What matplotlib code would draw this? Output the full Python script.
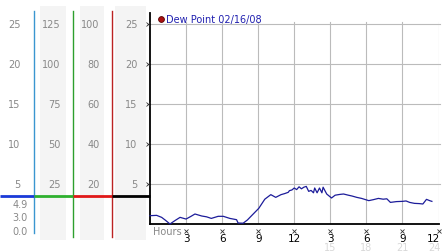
import matplotlib
matplotlib.use("Agg")
import matplotlib.pyplot as plt
import matplotlib.transforms as mtransforms

# ---------------- data ----------------
hours = [0.0, 0.55, 0.97, 1.3, 1.66, 2.1, 2.5, 3.0, 3.4, 3.74, 4.3, 4.7, 5.1, 5.67, 6.1,
         6.64, 7.2, 7.33, 7.75, 8.1, 8.45, 9.05, 9.55, 10.05, 10.46, 10.9, 11.2, 11.5, 11.6,
         11.8, 12.0, 12.2, 12.4, 12.6, 12.8, 13.0, 13.2, 13.4, 13.6, 13.7, 13.9, 14.1, 14.3,
         14.4, 14.7, 15.1, 15.4, 15.8, 16.1, 16.5, 16.8, 17.2, 17.6, 18.2, 18.6, 19.0, 19.4,
         19.7, 20.0, 20.5, 21.0, 21.3, 21.6, 22.0, 22.4, 22.7, 23.0, 23.3, 23.45]
dew_point = [1.04, 1.08, 0.83, 0.45, 0.0, 0.45, 0.83, 0.62, 0.95, 1.25, 1.0, 0.9, 0.7, 0.96, 0.96,
             0.7, 0.54, 0.12, 0.1, 0.5, 1.04, 1.96, 3.1, 3.67, 3.33, 3.67, 3.8, 3.96, 4.17,
             4.25, 4.5, 4.3, 4.65, 4.4, 4.6, 4.7, 4.08, 4.2, 3.9, 4.5, 3.9, 4.5, 3.9,
             4.6, 3.75, 3.25, 3.6, 3.7, 3.75, 3.6, 3.5, 3.33, 3.2, 2.92, 3.05, 3.2, 3.1,
             3.15, 2.7, 2.8, 2.83, 2.88, 2.7, 2.58, 2.55, 2.5, 3.08, 2.9, 2.83]

x_ticks = [3, 6, 9, 12, 15, 18, 21, 24]
x_labels = ["3", "6", "9", "12", "3", "6", "9", "12"]
x_labels_24h = ["15", "18", "21", "24"]
y_ticks = [5, 10, 15, 20, 25]
scale_col1 = ["5", "10", "15", "20", "25"]
scale_col2 = ["25", "50", "75", "100", "125"]
scale_col3 = ["20", "40", "60", "80", "100"]
scale_col4 = ["5", "10", "15", "20", "25"]
low_labels = ["4.9", "3.0", "0.0"]
legend_label = "Dew Point 02/16/08"

# ---------------- figure ----------------
W, H = 442, 253
fig = plt.figure(figsize=(W / 100, H / 100), dpi=100)
fig.patch.set_facecolor("white")

def fx(px):
    return px / W

def fy(py):
    return 1 - py / H

# overlay for the decorations of the left scale panel (pixel coords)
ov = fig.add_axes([0, 0, 1, 1], zorder=0)
ov.set_xlim(0, W)
ov.set_ylim(H, 0)
ov.axis("off")

# main axes
ax_left, ax_right, ax_top, ax_bot = 150, 438.5, 14, 225
ax = fig.add_axes([fx(ax_left), fy(ax_bot), fx(ax_right - ax_left), (ax_bot - ax_top) / H], zorder=2)
ax.set_facecolor("none")
ax.set_xlim(0, 24)
ax.set_ylim(0, (ax_bot - ax_top) / 8.0)

for t in y_ticks:
    ax.axhline(t, color="#bbbbbb", lw=0.8, zorder=1, xmax=1.005, clip_on=False)
for t in x_ticks:
    ax.axvline(t, color="#bbbbbb", lw=0.8, ymax=25.2 / ((ax_bot - ax_top) / 8.0), zorder=1)

ax.plot(hours, dew_point, color="#1c1c9a", lw=0.9, zorder=3, clip_on=False)

for s in ["top", "right"]:
    ax.spines[s].set_visible(False)
ax.spines["left"].set_linewidth(1.3)
ax.spines["bottom"].set_linewidth(1.3)
ax.set_xticks([])
ax.set_yticks([])

# little x tick marks on left spine
ax.plot([-0.2] * len(y_ticks), y_ticks, linestyle="none", marker="x", ms=2.2, mew=0.6,
        color="#333333", clip_on=False, zorder=4)
# little x marks above x tick labels
ax.plot(x_ticks, [-0.85] * len(x_ticks), linestyle="none", marker="x", ms=2.2, mew=0.6,
        color="#333333", clip_on=False, zorder=4)

# x tick labels (the last one is right-aligned so it stays inside the image)
edge_shift = mtransforms.offset_copy(ax.transData, fig=fig, x=2.0, units="dots")
for i, (t, lab) in enumerate(zip(x_ticks, x_labels)):
    last = i == len(x_ticks) - 1
    ax.text(t, -1.75, lab, ha="right" if last else "center", va="center",
            fontsize=7.5, color="black", clip_on=False,
            transform=edge_shift if last else ax.transData)
for i, (t, lab) in enumerate(zip(x_ticks[4:], x_labels_24h)):
    last = i == len(x_labels_24h) - 1
    ax.text(t, -2.85, lab, ha="right" if last else "center", va="center", fontsize=7,
            color="#d8d8d8", clip_on=False,
            transform=edge_shift if last else ax.transData)
ax.text(0.25, -0.9, "Hours", ha="left", va="center", fontsize=7, color="#888888", clip_on=False)

# legend
ax.plot([0.9], [25.6], linestyle="none", marker="o", ms=4.2, mfc="#aa1111", mec="#550000",
        mew=0.6, clip_on=False, zorder=5)
ax.text(1.3, 25.6, legend_label, ha="left", va="center", fontsize=7, color="#2020b0", clip_on=False)

# ---------------- left scale panel ----------------
# gray column backgrounds
for x0, x1 in [(40, 66), (80, 104), (115, 146)]:
    ov.fill_between([x0, x1], 7, 240.5, color="#f4f4f4", lw=0)

# vertical coloured lines
ov.plot([33.5, 33.5], [12, 234], color="#3a96d0", lw=1.0)
ov.plot([72.5, 72.5], [12, 238], color="#2ea02e", lw=1.0)
ov.plot([111.5, 111.5], [12, 238], color="#bb2222", lw=1.0)

# horizontal coloured line
ov.plot([0, 33.5], [197, 197], color="#1a3ad8", lw=2.0, solid_capstyle="butt")
ov.plot([33.5, 72.5], [197, 197], color="#2eb02e", lw=2.0, solid_capstyle="butt")
ov.plot([72.5, 111.5], [197, 197], color="#e01818", lw=2.0, solid_capstyle="butt")
ov.plot([111.5, 150], [197, 197], color="black", lw=2.0, solid_capstyle="butt")

# scale labels aligned with the main y grid
blend = mtransforms.blended_transform_factory(fig.transFigure, ax.transData)
for col, xr in [(scale_col1, 20.5), (scale_col2, 60.5), (scale_col3, 99.5), (scale_col4, 137.5)]:
    for t, lab in zip(y_ticks, col):
        fig.text(fx(xr), t, lab, ha="right", va="center", fontsize=7, color="#888888",
                 transform=blend)

for lab, py in zip(low_labels, [205, 218.5, 232]):
    fig.text(fx(27.5), fy(py), lab, ha="right", va="center", fontsize=7, color="#888888")

fig.savefig("out.png", dpi=100, facecolor="white")
